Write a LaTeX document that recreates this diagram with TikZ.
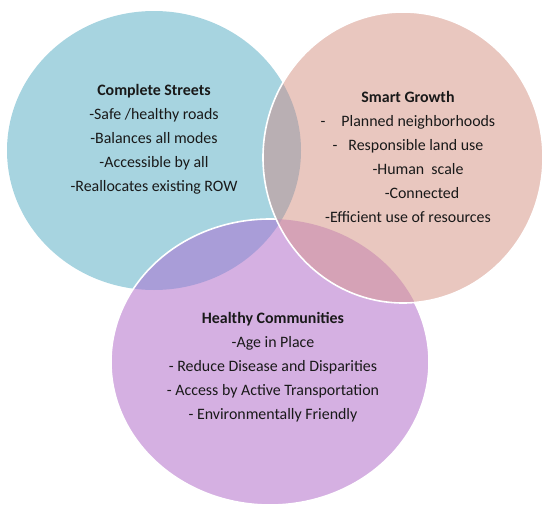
\documentclass[tikz,border=0pt]{standalone}
\usepackage{fontspec}
\setmainfont{Carlito}
\usepackage{tikz}

\definecolor{streetblue}{HTML}{A7D4E0}
\definecolor{growthpink}{HTML}{E9C7BF}
\definecolor{healthlilac}{HTML}{D5B0E2}
\definecolor{streetgrowth}{HTML}{B9AFB3}
\definecolor{streethealth}{HTML}{A99DD8}
\definecolor{growthhealth}{HTML}{D5A2B6}
\definecolor{allthree}{HTML}{C09CB4}

\def\streetshape{(154,150.5) ellipse [x radius=147pt, y radius=139.5pt]}
\def\growthshape{(403,157.5) ellipse [x radius=140pt, y radius=145.5pt]}
\def\healthshape{(270,362) ellipse [x radius=159pt, y radius=143pt]}

\begin{document}
\begin{tikzpicture}[x=1pt, y=-1pt, every node/.style={align=center, text=black!90, font=\fontsize{15.9}{24}\selectfont}, rim/.style={draw=white, line width=1.6pt}]
        \useasboundingbox (0,0) rectangle (544,506);

        % Circles
        \fill[streetblue] \streetshape;
        \fill[healthlilac] \healthshape;
        \begin{scope}
            \clip \streetshape;
            \fill[streethealth] \healthshape;
        \end{scope}
        \draw[rim] \healthshape;
        \fill[growthpink] \growthshape;

        % Overlaps
        \begin{scope}
            \clip \streetshape;
            \fill[streetgrowth] \growthshape;
        \end{scope}
        \begin{scope}
            \clip \growthshape;
            \fill[growthhealth] \healthshape;
        \end{scope}
        \begin{scope}
            \clip \streetshape;
            \clip \growthshape;
            \fill[allthree] \healthshape;
        \end{scope}
        \draw[rim] \growthshape;

        % Labels
        \node (streets) at (154,139.5) {\textbf{Complete Streets}\\-Safe /healthy roads\\-Balances all modes\\-Accessible by all\\-Reallocates existing ROW};
        \node (growth) at (408,156.5) {\textbf{Smart Growth}\\-\quad Planned neighborhoods\\-\hspace{11pt}Responsible land use\\\hspace*{20pt}-Human\ \ scale\\\hspace*{28pt}-Connected\\-Efficient use of resources};
        \node (health) at (273,367) {\textbf{Healthy Communities}\\-Age in Place\hspace*{16pt}\\- Reduce Disease and Disparities\\- Access by Active Transportation\\- Environmentally Friendly};

\end{tikzpicture}
\end{document}
